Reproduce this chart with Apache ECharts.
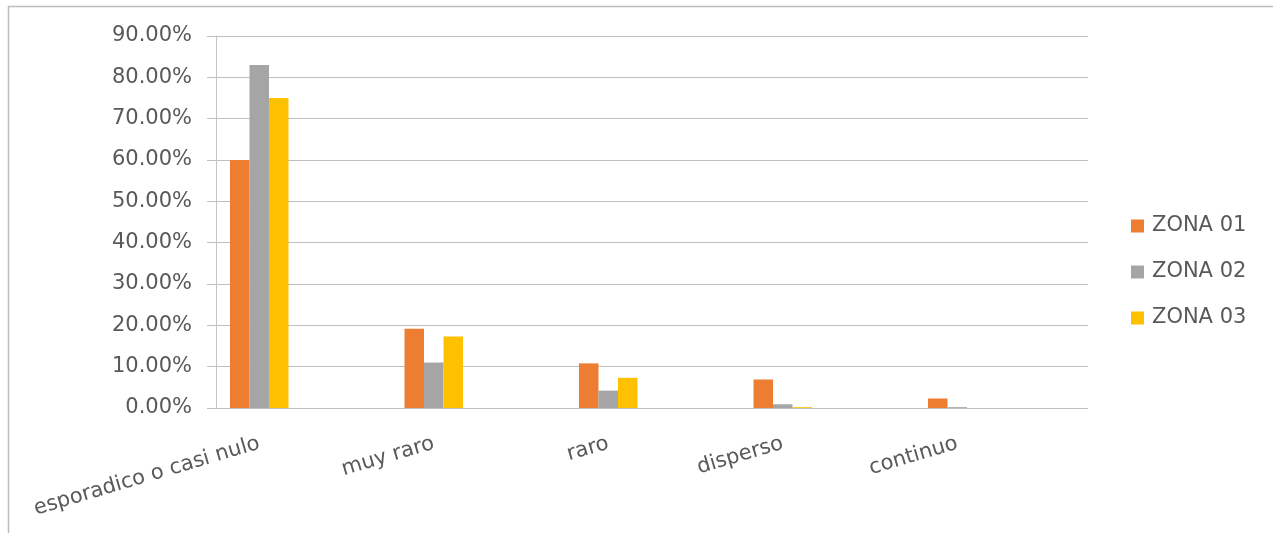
<!DOCTYPE html>
<html>
<head>
<meta charset="utf-8">
<style>
  html, body { margin: 0; padding: 0; background: #ffffff; }
  #chart { width: 1273px; height: 533px; }
</style>
<script src="https://cdn.jsdelivr.net/npm/echarts@6/dist/echarts.min.js"></script>
</head>
<body>
<div id="chart"></div>
<script>
// Categories and per-zone shares (fractions of 1)
const categories = ['esporadico o casi nulo', 'muy raro', 'raro', 'disperso', 'continuo'];
const zona01 = [0.600, 0.192, 0.108, 0.069, 0.023];
const zona02 = [0.830, 0.110, 0.042, 0.009, 0.002];
const zona03 = [0.750, 0.173, 0.073, 0.002, 0.000];
const seriesNames = ['ZONA 01', 'ZONA 02', 'ZONA 03'];
const seriesColors = ['#ED7D31', '#A5A5A5', '#FFC000'];

const FONT = 'DejaVu Sans';
const TEXT_COLOR = '#595959';
const GRID_COLOR = '#c0c0c0';

const chart = echarts.init(document.getElementById('chart'), null, { renderer: 'canvas' });

const values = [zona01, zona02, zona03];

chart.setOption({
  backgroundColor: '#ffffff',
  animation: false,
  legend: {
    orient: 'vertical',
    left: 1126,
    top: 210,
    itemWidth: 13,
    itemHeight: 13,
    itemGap: 24,
    icon: 'rect',
    data: seriesNames,
    textStyle: { fontFamily: FONT, fontSize: 21, color: TEXT_COLOR, lineHeight: 22, padding: [0, 0, 0, 3] }
  },
  grid: [
    // frame grid: value axis, gridlines, left axis line
    { left: 216, right: 185, top: 36, bottom: 125 },
    // bar grid: category bands
    { left: 172, width: 872.5, top: 36, bottom: 125 }
  ],
  xAxis: [
    { type: 'category', gridIndex: 0, data: categories, show: false },
    {
      type: 'category', gridIndex: 1, data: categories,
      axisLine: { show: false }, axisTick: { show: false },
      axisLabel: {
        rotate: 16.5, margin: 35, interval: 0,
        fontFamily: FONT, fontSize: 21, color: TEXT_COLOR
      }
    }
  ],
  yAxis: [
    {
      type: 'value', gridIndex: 0, min: 0, max: 0.9, interval: 0.1,
      axisLine: { show: true, lineStyle: { color: '#c8c2cc', width: 1 } },
      axisTick: { show: true, length: 9, lineStyle: { color: GRID_COLOR } },
      splitLine: { show: true, lineStyle: { color: GRID_COLOR, width: 1 } },
      axisLabel: {
        margin: 24, fontFamily: FONT, fontSize: 21, color: TEXT_COLOR,
        formatter: v => (v * 100).toFixed(2) + '%'
      }
    },
    { type: 'value', gridIndex: 1, min: 0, max: 0.9, show: false, splitLine: { show: false } }
  ],
  series: seriesNames.map((name, i) => ({
    name: name,
    type: 'bar',
    xAxisIndex: 1,
    yAxisIndex: 1,
    data: values[i],
    barGap: '0%',
    barCategoryGap: '66.5%',
    itemStyle: { color: seriesColors[i] }
  })),
  graphic: [
    { type: 'line', shape: { x1: 8, y1: 6.5, x2: 1273, y2: 6.5 }, style: { stroke: '#bdbdbd', lineWidth: 1.5 } },
    { type: 'line', shape: { x1: 8.5, y1: 6, x2: 8.5, y2: 533 }, style: { stroke: '#bdbdbd', lineWidth: 1.5 } }
  ]
});
</script>
</body>
</html>
